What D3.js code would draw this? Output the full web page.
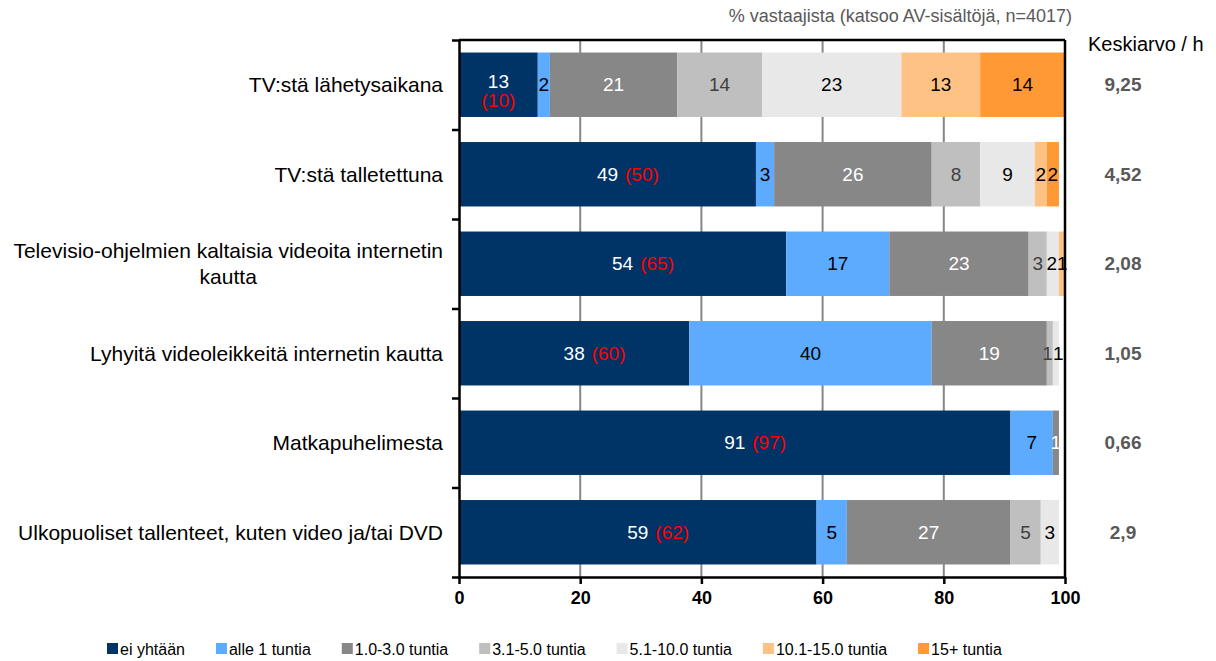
<!DOCTYPE html>
<html lang="fi">
<head>
<meta charset="UTF-8">
<title>AV-sisältöjen katselu</title>
<script src="https://cdnjs.cloudflare.com/ajax/libs/d3/7.8.5/d3.min.js"></script>
<style>
    body { margin: 0; background: #fff; }
    svg { font-family: "Liberation Sans", Arial, sans-serif; }
</style>
</head>
<body>
<svg id="chart" width="1216" height="661"></svg>
<script>
    // Categories (rows), top to bottom. "\n" marks a wrapped label.
    const categories = [
        "TV:stä lähetysaikana",
        "TV:stä talletettuna",
        "Televisio-ohjelmien kaltaisia videoita internetin\nkautta",
        "Lyhyitä videoleikkeitä internetin kautta",
        "Matkapuhelimesta",
        "Ulkopuoliset tallenteet, kuten video ja/tai DVD"
    ];
    const seriesNames = [
        "ei yhtään",
        "alle 1 tuntia",
        "1.0-3.0 tuntia",
        "3.1-5.0 tuntia",
        "5.1-10.0 tuntia",
        "10.1-15.0 tuntia",
        "15+ tuntia"
    ];
    const colors = ["#003366", "#5cabff", "#878787", "#bfbfbf", "#e8e8e8", "#ffc285", "#ff9933"];
    const labelColors = ["#ffffff", "#000000", "#ffffff", "#404040", "#000000", "#000000", "#000000"];

    // % of respondents per series
    const eiYhtaan = [13, 49, 54, 38, 91, 59];
    const alle1 = [2, 3, 17, 40, 7, 5];
    const h1to3 = [21, 26, 23, 19, 1, 27];
    const h3to5 = [14, 8, 3, 1, 0, 5];
    const h5to10 = [23, 9, 2, 1, 0, 3];
    const h10to15 = [13, 2, 0.8, 0, 0, 0];
    const h15plus = [14, 2, 0.3, 0, 0, 0];

    // red numbers in parentheses next to "ei yhtään"
    const aiemmat = [10, 50, 65, 60, 97, 62];
    // average hours, right column
    const keskiarvot = ["9,25", "4,52", "2,08", "1,05", "0,66", "2,9"];
    const xTicks = [0, 20, 40, 60, 80, 100];

    const seriesValues = [eiYhtaan, alle1, h1to3, h3to5, h5to10, h10to15, h15plus];
    const table = categories.map(function(c, i) {
        const row = {category: c};
        seriesNames.forEach(function(s, j) { row[s] = seriesValues[j][i]; });
        return row;
    });
    const stacked = d3.stack().keys(seriesNames)(table);

    const svg = d3.select("#chart");
    const plotLeft = 459, plotRight = 1065, plotTop = 40, plotBottom = 577;

    const x = d3.scaleLinear().domain([0, 100]).range([plotLeft, plotRight]);
    const y = d3.scaleBand().domain(categories).range([plotTop, plotBottom])
        .paddingInner(0.28).paddingOuter(0.14);
    const rowEdge = d3.scaleLinear().domain([0, categories.length]).range([plotTop, plotBottom]);

    // vertical gridlines behind the bars
    svg.append("g")
        .selectAll("line")
        .data(xTicks.slice(1, -1))
        .enter().append("line")
        .attr("x1", d => x(d)).attr("x2", d => x(d))
        .attr("y1", plotTop).attr("y2", plotBottom)
        .attr("stroke", "#878787")
        .attr("stroke-width", 2);

    // bars
    const layers = svg.append("g")
        .selectAll("g")
        .data(stacked)
        .enter().append("g")
        .attr("fill", (d, i) => colors[i]);

    layers.selectAll("rect")
        .data(d => d)
        .enter().append("rect")
        .attr("x", d => x(d[0]))
        .attr("y", d => y(d.data.category))
        .attr("width", d => x(d[1]) - x(d[0]))
        .attr("height", y.bandwidth());

    // value labels
    const labelG = svg.append("g").attr("font-size", 19);
    const rowLabels = categories.map(() => []);
    stacked.forEach(function(layer, si) {
        layer.forEach(function(d, ri) {
            const v = Math.round(d[1] - d[0]);
            if (v < 1) return;
            const cx = (x(d[0]) + x(d[1])) / 2;
            const cy = y(d.data.category) + y.bandwidth() / 2;
            const segW = x(d[1]) - x(d[0]);
            const t = labelG.append("text")
                .attr("x", cx)
                .attr("y", cy)
                .attr("dy", "0.35em")
                .attr("text-anchor", "middle")
                .attr("fill", labelColors[si])
                .text(v);
            rowLabels[ri].push({el: t, cx: cx, w: t.node().getComputedTextLength()});
            if (si !== 0) return;
            const red = "(" + aiemmat[ri] + ")";
            const numW = t.node().getComputedTextLength();
            const r = labelG.append("text")
                .attr("fill", "#ff0000")
                .attr("dy", "0.35em")
                .text(red);
            const redW = r.node().getComputedTextLength();
            if (segW < numW + redW + 40) {
                // narrow segment: put the red value under the number
                t.attr("y", cy - 3);
                r.attr("x", cx).attr("y", cy + 16).attr("text-anchor", "middle");
            } else {
                r.attr("x", cx + numW / 2 + 7).attr("y", cy);
            }
        });
    });

    // nudge labels of tiny neighbouring segments apart so they just touch
    rowLabels.forEach(function(labels) {
        for (let i = 1; i < labels.length; i++) {
            const a = labels[i - 1], b = labels[i];
            const overlap = (a.cx + a.w / 2) - (b.cx - b.w / 2);
            if (overlap > 0 && b.w < 15) {
                a.cx -= overlap / 2;
                b.cx += overlap / 2;
                a.el.attr("x", a.cx);
                b.el.attr("x", b.cx);
            }
        }
    });

    // top and right frame
    svg.append("line")
        .attr("x1", plotLeft).attr("x2", plotRight)
        .attr("y1", plotTop).attr("y2", plotTop)
        .attr("stroke", "#000").attr("stroke-width", 2.5);
    svg.append("line")
        .attr("x1", plotRight).attr("x2", plotRight)
        .attr("y1", plotTop).attr("y2", plotBottom)
        .attr("stroke", "#000").attr("stroke-width", 2.5);

    // bottom axis
    const xAxis = svg.append("g")
        .attr("transform", "translate(0," + plotBottom + ")")
        .call(d3.axisBottom(x).tickValues(xTicks).tickSize(7).tickSizeOuter(0));
    xAxis.select(".domain").attr("stroke", "#000").attr("stroke-width", 2.5);
    xAxis.selectAll(".tick line").attr("stroke", "#000").attr("stroke-width", 2.5);
    xAxis.selectAll(".tick text")
        .attr("y", 14)
        .attr("fill", "#000")
        .attr("font-size", 18)
        .attr("font-weight", "bold")
        .attr("font-family", "'Liberation Sans', Arial, sans-serif");

    // left axis with ticks between categories
    const yAxis = svg.append("g")
        .attr("transform", "translate(" + plotLeft + ",0)")
        .call(d3.axisLeft(rowEdge).tickValues(d3.range(categories.length + 1))
            .tickFormat("").tickSize(7).tickSizeOuter(0));
    yAxis.select(".domain").attr("stroke", "#000").attr("stroke-width", 2.5);
    yAxis.selectAll(".tick line").attr("stroke", "#000").attr("stroke-width", 2.5);

    // category labels
    const catG = svg.append("g").attr("font-size", 21).attr("fill", "#000");
    categories.forEach(function(c) {
        const lines = c.split("\n");
        const cy = y(c) + y.bandwidth() / 2;
        const lh = 26;
        const txt = catG.append("text").attr("text-anchor", "middle");
        lines.forEach(function(l, i) {
            txt.append("tspan")
                .attr("y", cy + (i - (lines.length - 1) / 2) * lh)
                .attr("dy", "0.35em")
                .text(l);
        });
        // right-align the whole block, center the lines in it
        const w = d3.max(txt.selectAll("tspan").nodes(), n => n.getComputedTextLength());
        txt.selectAll("tspan").attr("x", 443 - w / 2);
    });

    // average column
    svg.append("text")
        .attr("x", 1088).attr("y", 51)
        .attr("font-size", 20)
        .text("Keskiarvo / h");
    svg.append("g")
        .selectAll("text")
        .data(keskiarvot)
        .enter().append("text")
        .attr("x", 1123)
        .attr("y", (d, i) => y(categories[i]) + y.bandwidth() / 2)
        .attr("dy", "0.35em")
        .attr("text-anchor", "middle")
        .attr("font-size", 19)
        .attr("font-weight", "bold")
        .attr("fill", "#595959")
        .text(d => d);

    // subtitle
    svg.append("text")
        .attr("x", 1072).attr("y", 22)
        .attr("text-anchor", "end")
        .attr("font-size", 18)
        .attr("fill", "#595959")
        .text("% vastaajista (katsoo AV-sisältöjä, n=4017)");

    // legend
    const legend = svg.append("g").attr("font-size", 16);
    let lx = 107;
    seriesNames.forEach(function(s, i) {
        legend.append("rect")
            .attr("x", lx).attr("y", 643)
            .attr("width", 11).attr("height", 11)
            .attr("fill", colors[i]);
        const t = legend.append("text")
            .attr("x", lx + 13).attr("y", 649)
            .attr("dy", "0.35em")
            .text(s);
        lx += 13 + t.node().getComputedTextLength() + 31;
    });
</script>
</body>
</html>
